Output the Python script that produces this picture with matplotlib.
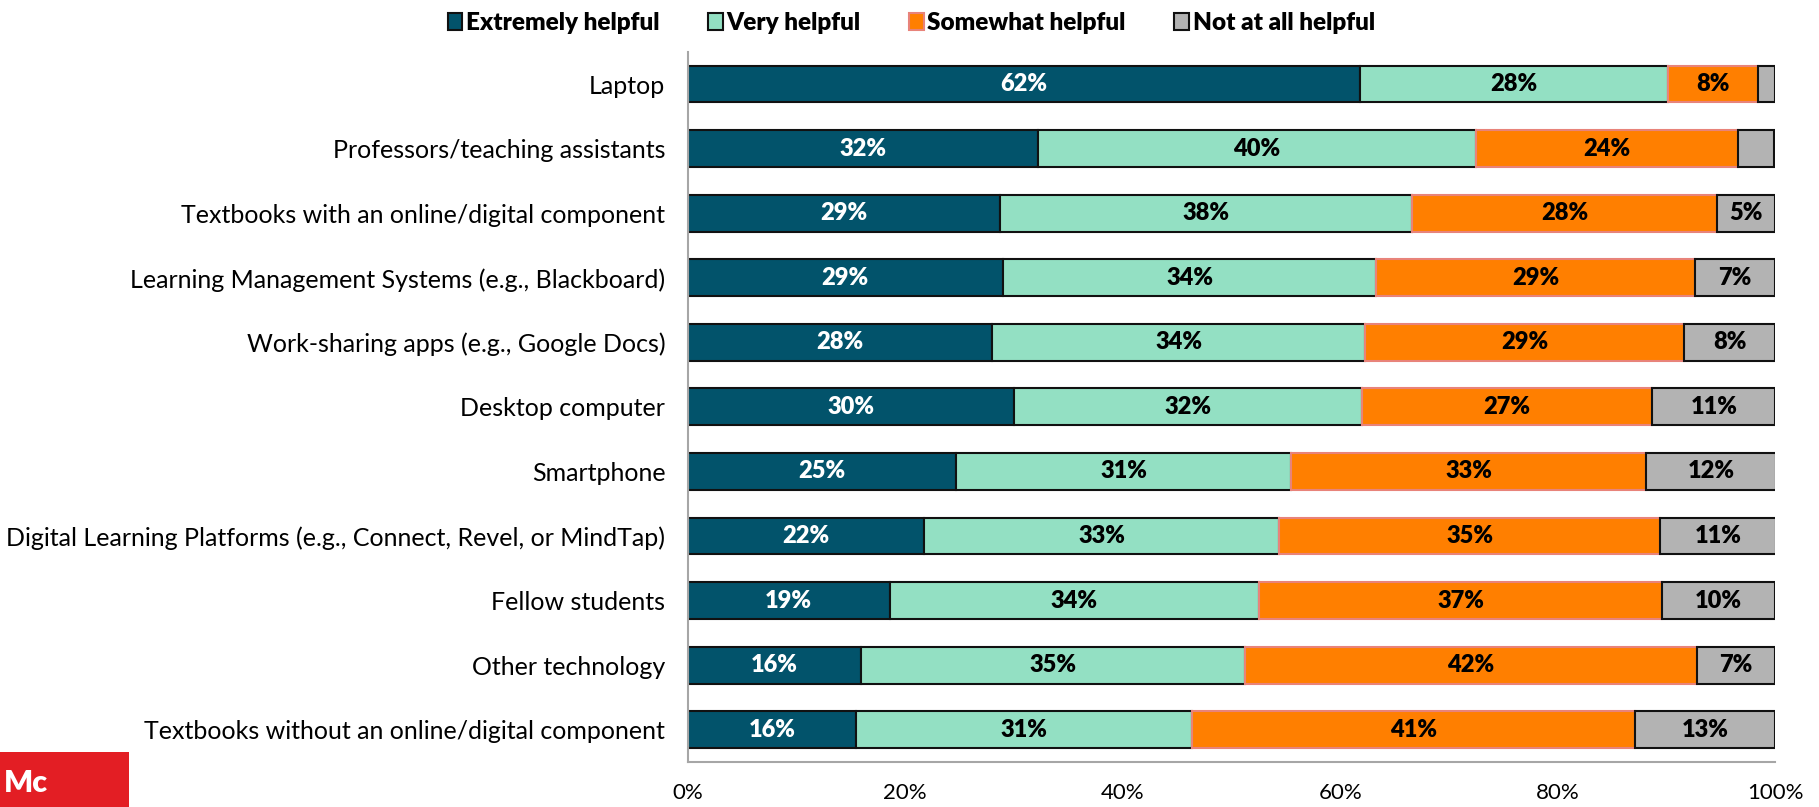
import matplotlib.pyplot as plt
import matplotlib.patches as mpatches
import numpy as np

plt.rcParams['font.family'] = ['Lato', 'DejaVu Sans']

categories = ['Laptop',
              'Professors/teaching assistants',
              'Textbooks with an online/digital component',
              'Learning Management Systems (e.g., Blackboard)',
              'Work-sharing apps (e.g., Google Docs)',
              'Desktop computer',
              'Smartphone',
              'Digital Learning Platforms (e.g., Connect, Revel, or MindTap)',
              'Fellow students',
              'Other technology',
              'Textbooks without an online/digital component']

extremely = [61.8, 32.2, 28.7, 29.0, 28.0, 30.0, 24.7, 21.7, 18.6, 15.9, 15.5]
very      = [28.3, 40.3, 37.9, 34.3, 34.3, 32.0, 30.8, 32.7, 33.9, 35.3, 30.9]
somewhat  = [8.3, 24.1, 28.0, 29.3, 29.3, 26.7, 32.6, 35.0, 37.1, 41.6, 40.7]
not_at_all = [1.6, 3.3, 5.4, 7.4, 8.4, 11.3, 12.0, 10.7, 10.4, 7.2, 12.9]

series = ['Extremely helpful', 'Very helpful', 'Somewhat helpful', 'Not at all helpful']
colors = ['#02536B', '#93E0C3', '#FF7F00', '#B3B3B3']
edges = ['#111111', '#111111', '#E8837A', '#111111']
text_colors = ['white', 'black', 'black', 'black']
min_label = 4.0

fig = plt.figure(figsize=(18.19, 8.07), dpi=100)
ax = fig.add_axes([0.378, 0.0558, 0.598, 0.88])

y = np.arange(len(categories))
left = np.zeros(len(categories))
handles = []
for vals, col, ec, tc, name in zip([extremely, very, somewhat, not_at_all],
                                   colors, edges, text_colors, series):
    vals = np.array(vals)
    ax.barh(y, vals, left=left, height=0.57, color=col, edgecolor=ec, linewidth=1.5)
    for yi, l, v in zip(y, left, vals):
        if v >= min_label:
            ax.text(l + v / 2, yi, '%d%%' % round(v), ha='center', va='center',
                    color=tc, fontsize=17, fontweight='heavy')
    left = left + vals
    handles.append(mpatches.Patch(facecolor=col, edgecolor=ec, linewidth=1.5, label=name))

ax.set_xlim(0, 100)
ax.set_ylim(10.5, -0.5)
ax.set_yticks(y)
ax.set_yticklabels(categories, fontsize=18)
ax.set_xticks([0, 20, 40, 60, 80, 100])
ax.set_xticklabels(['0%', '20%', '40%', '60%', '80%', '100%'], fontsize=16)
ax.tick_params(axis='y', length=0, pad=16)
ax.tick_params(axis='x', length=0, pad=15)
for s in ['top', 'right']:
    ax.spines[s].set_visible(False)
ax.spines['left'].set_color('#A6A6A6')
ax.spines['bottom'].set_color('#A6A6A6')
ax.spines['left'].set_linewidth(1.5)
ax.spines['bottom'].set_linewidth(1.5)

leg = fig.legend(handles=handles, loc='center', bbox_to_anchor=(0.501, 0.972), ncol=4,
                 frameon=False, prop={'size': 17.5, 'weight': 'heavy'},
                 handlelength=0.6, handleheight=0.7, handletextpad=0.15, columnspacing=2.0)

# red logo strip bottom-left
fig.patches.append(mpatches.Rectangle((0, 0), 129 / 1819, 55 / 807, transform=fig.transFigure,
                                      facecolor='#E31E24', edgecolor='none'))
fig.text(0.002, 0.03, 'Mc', ha='left', va='center', color='white', fontsize=22,
         fontweight='heavy')

fig.savefig('out.png', dpi=100)
